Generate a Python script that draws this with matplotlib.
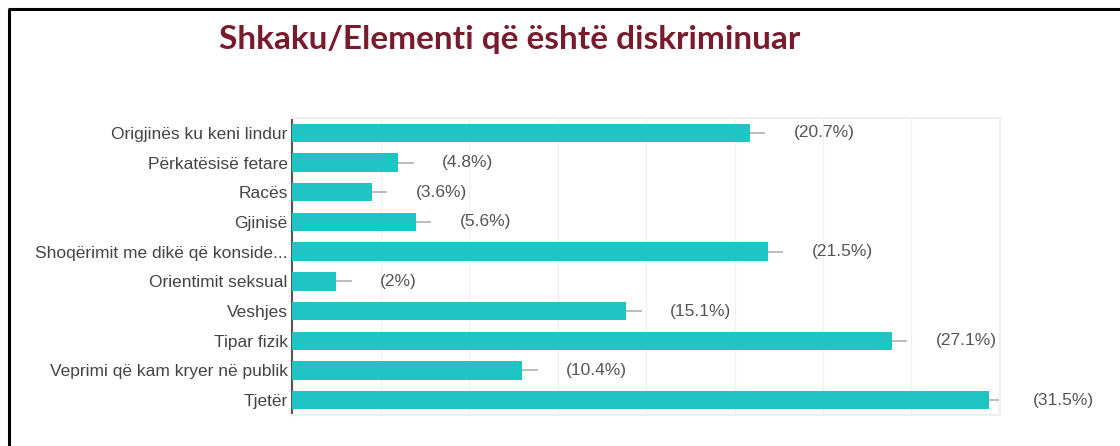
import matplotlib
matplotlib.use("Agg")
import matplotlib.pyplot as plt
from matplotlib.lines import Line2D

title = "Shkaku/Elementi që është diskriminuar"
categories = [
    "Origjinës ku keni lindur",
    "Përkatësisë fetare",
    "Racës",
    "Gjinisë",
    "Shoqërimit me dikë që konside...",
    "Orientimit seksual",
    "Veshjes",
    "Tipar fizik",
    "Veprimi që kam kryer në publik",
    "Tjetër",
]
values = [20.7, 4.8, 3.6, 5.6, 21.5, 2.0, 15.1, 27.1, 10.4, 31.5]
value_labels = ["(20.7%)", "(4.8%)", "(3.6%)", "(5.6%)", "(21.5%)", "(2%)",
                "(15.1%)", "(27.1%)", "(10.4%)", "(31.5%)"]

W, H = 1120, 446
fig = plt.figure(figsize=(W / 100, H / 100), dpi=100)
fig.patch.set_facecolor("white")

# outer frame (left and top edges visible)
fig.add_artist(Line2D([9 / W, 9 / W], [0, 1 - 9 / H], color="black", lw=2.2,
                      transform=fig.transFigure, solid_capstyle="butt"))
fig.add_artist(Line2D([8 / W, 1], [1 - 9 / H, 1 - 9 / H], color="black", lw=2.2,
                      transform=fig.transFigure, solid_capstyle="butt"))

fig.text(510 / W, 1 - 49 / H, title, ha="center", va="baseline",
         fontsize=24, fontweight="bold", color="#7a1b2d", family="Lato")

left, right, top, bottom = 292, 1000, 118, 415
ax = fig.add_axes([left / W, 1 - bottom / H, (right - left) / W, (bottom - top) / H])

y = list(range(len(categories)))
ax.barh(y, values, height=0.62, color="#1fc4c4", zorder=3)
whisk = [0.7] * len(values)
ax.errorbar(values, y, xerr=[[0] * len(values), whisk], fmt="none",
            ecolor="#b0b0b0", elinewidth=1.2, capsize=0, zorder=2)
for yi, v, lab in zip(y, values, value_labels):
    ax.annotate(lab, (v, yi), xytext=(44, 0), textcoords="offset pixels",
                ha="left", va="center", fontsize=12.5, color="#555555",
                family="Liberation Sans")

ax.set_xlim(0, 32)
ax.set_ylim(len(categories) - 0.5, -0.5)
ax.set_yticks(y)
ax.set_yticklabels(categories, fontsize=12.5, color="#444444", family="Liberation Sans")
ax.set_xticks(range(0, 33, 4))
ax.tick_params(axis="y", length=0, pad=3)
ax.tick_params(axis="x", length=0, labelbottom=False)
ax.grid(axis="x", color="#f0f0f0", lw=1, zorder=0)
ax.spines["left"].set_color("#555555")
ax.spines["left"].set_linewidth(1.5)
for s in ("top", "right", "bottom"):
    ax.spines[s].set_color("#eeeeee")
    ax.spines[s].set_linewidth(1.5)

fig.savefig("out.png", dpi=100)
